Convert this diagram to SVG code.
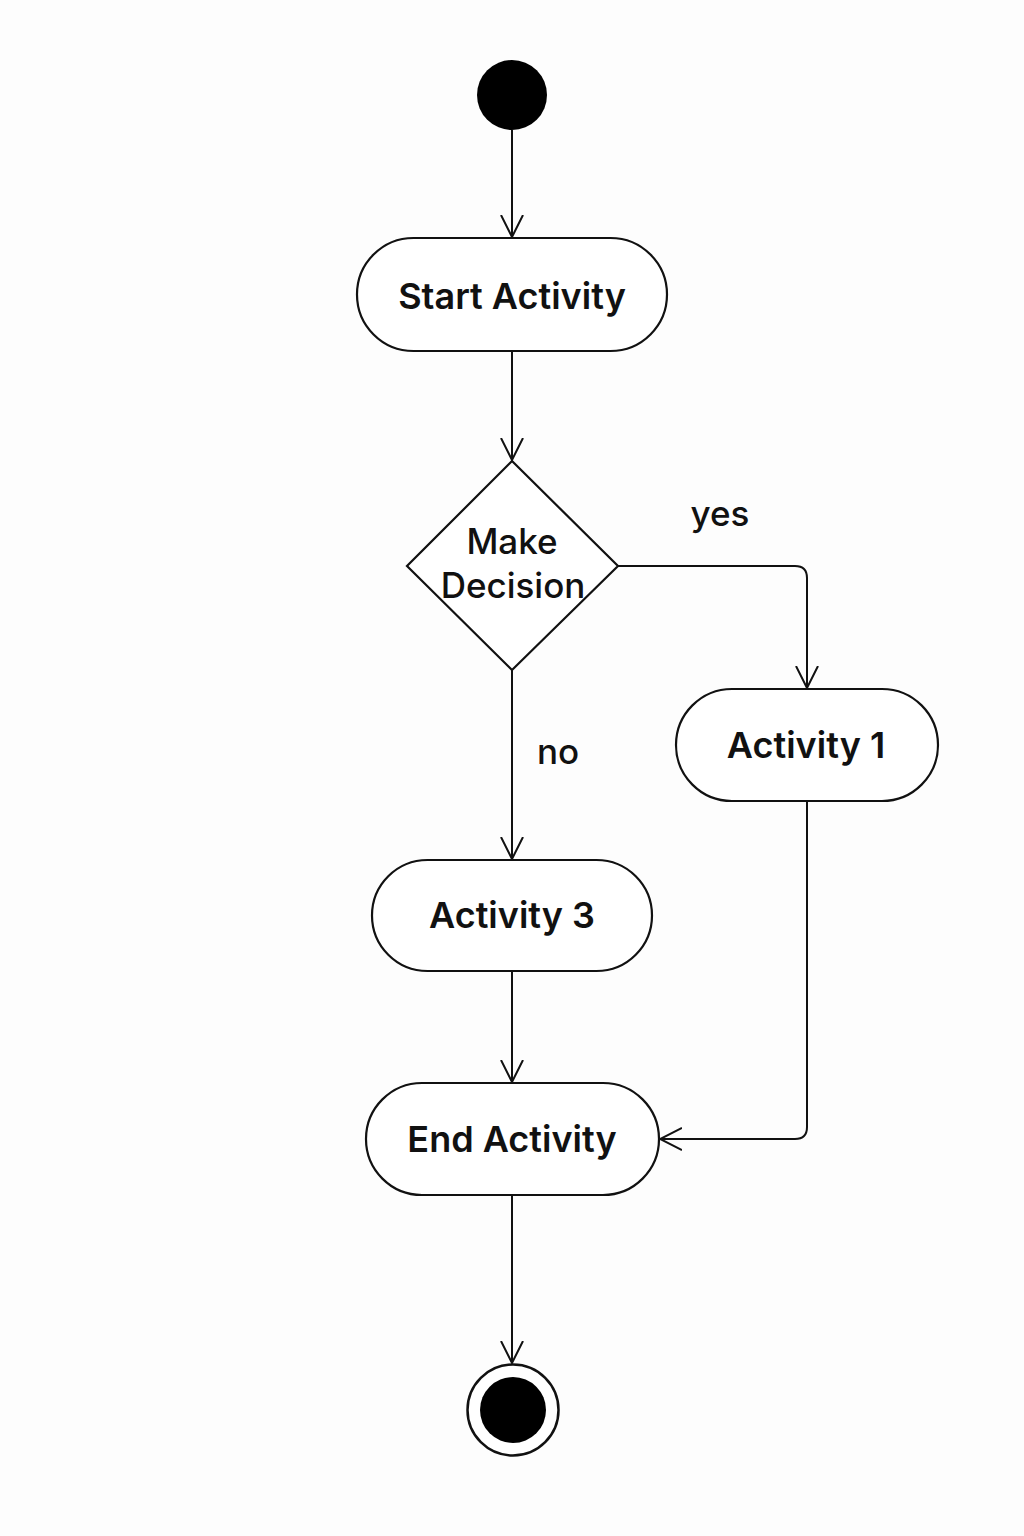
<svg xmlns="http://www.w3.org/2000/svg" width="1024" height="1536" viewBox="0 0 1024 1536">
<defs>
<style>
.n{fill:#fff;stroke:#111;stroke-width:2.2}
.c{fill:none;stroke:#111;stroke-width:2}
.t{font-family:Inter,"Liberation Sans",sans-serif;font-size:36px;font-weight:600;fill:#111;text-anchor:middle}
.s{font-size:35px;font-weight:500}
</style>
<marker id="a" viewBox="0 0 24 24" refX="22" refY="12" markerWidth="24" markerHeight="24" markerUnits="userSpaceOnUse" orient="auto">
<path d="M0,1 L22,12 L0,23" fill="none" stroke="#111" stroke-width="2"/>
</marker>
</defs>
<rect width="1024" height="1536" fill="#fdfdfd"/>
<g id="connectors">
<path class="c" d="M512,130 V237" marker-end="url(#a)"/>
<path class="c" d="M512,351 V460" marker-end="url(#a)"/>
<path class="c" d="M618,566 H795 Q807,566 807,578 V688" marker-end="url(#a)"/>
<path class="c" d="M512,670 V859" marker-end="url(#a)"/>
<path class="c" d="M512,971 V1082" marker-end="url(#a)"/>
<path class="c" d="M807,801 V1127 Q807,1139 795,1139 H660" marker-end="url(#a)"/>
<path class="c" d="M512,1195 V1363" marker-end="url(#a)"/>
<text class="t s" x="720" y="526">yes</text>
<text class="t s" x="558" y="764">no</text>
</g>
<g id="start"><circle cx="512" cy="95" r="35" fill="#000"/></g>
<g id="startActivity">
<rect class="n" x="357" y="238" width="310" height="113" rx="56.5"/>
<text class="t" x="512" y="309">Start Activity</text>
</g>
<g id="decision">
<polygon class="n" points="512,461 618,566 512,670 407,566"/>
<text class="t s" x="512" y="554">Make</text>
<text class="t s" x="513" y="598">Decision</text>
</g>
<g id="activity1">
<rect class="n" x="676" y="689" width="262" height="112" rx="56"/>
<text class="t" x="806" y="758">Activity 1</text>
</g>
<g id="activity3">
<rect class="n" x="372" y="860" width="280" height="111" rx="55.5"/>
<text class="t" x="512" y="928">Activity 3</text>
</g>
<g id="endActivity">
<rect class="n" x="366" y="1083" width="293" height="112" rx="56"/>
<text class="t" x="512" y="1152">End Activity</text>
</g>
<g id="final">
<circle cx="513" cy="1410" r="45.5" fill="#fff" stroke="#111" stroke-width="2.5"/>
<circle cx="513" cy="1410" r="33" fill="#000"/>
</g>
</svg>
